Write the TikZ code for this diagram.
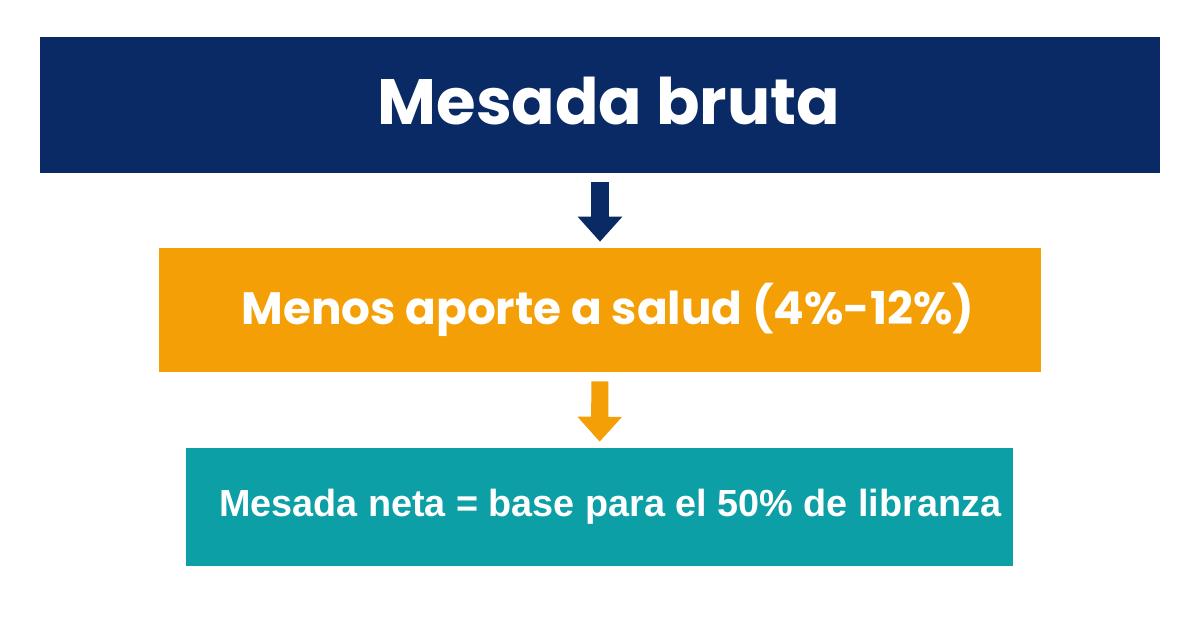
\documentclass[tikz,border=0pt]{standalone}
\usepackage{fontspec}
\newfontfamily\headfont{Poppins}
\newfontfamily\notefont{Liberation Sans}
\usetikzlibrary{arrows.meta}
\definecolor{navyblue}{HTML}{0A2A66}
\definecolor{saludorange}{HTML}{F49F05}
\definecolor{netateal}{HTML}{0C9FA6}
\tikzset{
	stage/.style={rectangle, inner sep=0pt, text=white, font=\headfont\bfseries},
	flow/.style={-{Triangle[width=24.5pt, length=14.2pt]}, line width=9.7pt,
		shorten <=5.1pt, shorten >=3.4pt}
}
\begin{document}
\begin{tikzpicture}[x=0.02cm, y=-0.02cm]
		\useasboundingbox[fill=white] (0,0) rectangle (1200,628);

		\node[stage, fill=navyblue, minimum width=22.4cm, minimum height=2.72cm,
			font=\headfont\bfseries\fontsize{36.5}{42}\selectfont] (bruta) at (600,105)
			{\hspace*{10pt}\raisebox{2.5pt}[\height][\depth]{Mesada bruta}};
		\node[stage, fill=saludorange, minimum width=17.64cm, minimum height=2.48cm,
			font=\headfont\bfseries\fontsize{25.8}{31}\selectfont] (salud) at (600,310)
			{\hspace*{9pt}Menos aporte a salud (4\%-12\%)};
		\node[stage, fill=netateal, minimum width=16.54cm, minimum height=2.36cm,
			font=\notefont\bfseries\fontsize{21.5}{26}\selectfont] (neta) at (599.5,507)
			{\hspace*{12pt}Mesada neta = base para el 50\% de libranza};

		\draw[flow, navyblue] (bruta) -- (salud);
		\draw[flow, saludorange] (salud) -- (neta);

	\end{tikzpicture}
\end{document}
